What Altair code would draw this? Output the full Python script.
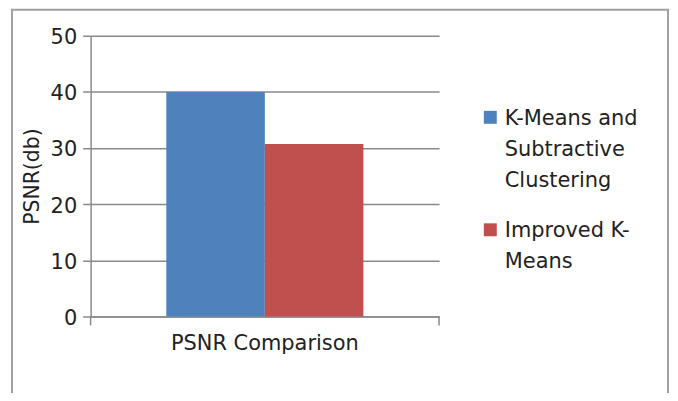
import json
import altair as alt
import pandas as pd

# ---- data ----
categories = ["PSNR Comparison"]
series = ["K-Means and Subtractive Clustering", "Improved K-Means"]
psnr = [40.0, 30.7]
legend_lines = [["K-Means and", "Subtractive", "Clustering"], ["Improved K-", "Means"]]
colors = ["#4F81BD", "#C0504D"]
y_ticks = [0, 10, 20, 30, 40, 50]

df = pd.DataFrame({
    "category": categories * len(series),
    "series": series,
    "psnr": psnr,
})

FONT = "DejaVu Sans"
TXT = "#222222"
AX = "#8a8a8a"
W, H = 350, 282

# multi-line legend labels
expr = json.dumps(legend_lines[-1])
for s, lines in reversed(list(zip(series[:-1], legend_lines[:-1]))):
    expr = f"datum.label === {json.dumps(s)} ? {json.dumps(lines)} : {expr}"

# square key, nudged down so it sits beside the first label line
KEY = "M-1,0.45H1V2.45H-1Z"

bars = alt.Chart(df).mark_bar().encode(
    x=alt.X(
        "category:N",
        title=None,
        scale=alt.Scale(paddingInner=0, paddingOuter=0.384),
        axis=alt.Axis(
            ticks=False, labelAngle=0, labelPadding=16, labelFont=FONT,
            labelFontSize=21, labelColor=TXT, labelLimit=400,
            domainColor=AX, domainWidth=1.5,
        ),
    ),
    xOffset=alt.XOffset(
        "series:N", sort=series, scale=alt.Scale(paddingInner=0, paddingOuter=0)
    ),
    y=alt.Y(
        "psnr:Q",
        scale=alt.Scale(domain=[0, 50]),
        axis=alt.Axis(
            values=y_ticks, title="PSNR(db)", titleFont=FONT, titleFontSize=20.5,
            titleFontWeight="normal", titleColor=TXT, titlePadding=8,
            labelFont=FONT, labelFontSize=21, labelColor=TXT, labelPadding=6,
            labelOffset=2, tickSize=8, tickColor=AX, tickWidth=1.5,
            domainColor=AX, domainWidth=1.5, gridColor=AX, gridWidth=1.5,
        ),
    ),
    color=alt.Color(
        "series:N",
        sort=series,
        scale=alt.Scale(domain=series, range=colors),
        legend=alt.Legend(
            title=None, orient="none", legendX=391, legendY=62,
            symbolType=KEY, symbolSize=169, symbolStrokeWidth=0,
            labelFont=FONT, labelFontSize=21, labelColor=TXT, labelOffset=4,
            rowPadding=19, labelExpr=expr, labelLimit=400,
            labelBaseline="top", padding=0,
        ),
    ),
)

one = pd.DataFrame({"k": [0]})
border = alt.Chart(one).mark_rect(
    filled=False, stroke="#a0a0a0", strokeWidth=2, clip=False
).encode(
    x=alt.value(-79), x2=alt.value(580), y=alt.value(-26), y2=alt.value(380)
)
tick_l = alt.Chart(one).mark_rule(color=AX, strokeWidth=1.5).encode(
    x=alt.value(0), y=alt.value(H), y2=alt.value(H + 9)
)
tick_r = alt.Chart(one).mark_rule(color=AX, strokeWidth=1.5).encode(
    x=alt.value(W), y=alt.value(H), y2=alt.value(H + 9)
)

chart = alt.layer(bars, tick_l, tick_r, border).properties(
    width=W,
    height=H,
    padding={"left": 83, "top": 27, "right": 232, "bottom": 76},
    autosize=alt.AutoSizeParams(type="none"),
).configure(
    style={"guide-label": {"lineHeight": 31}}
).configure_view(stroke="transparent")

chart.save("out.html", embed_options={"renderer": "svg", "actions": False})
